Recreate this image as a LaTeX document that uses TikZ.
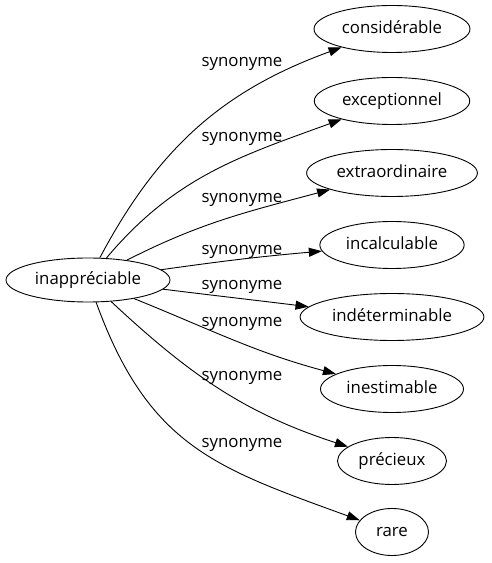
\documentclass[tikz,border=0pt]{standalone}
\usepackage{fontspec}
\setmainfont{Open Sans}
\usetikzlibrary{arrows.meta,shapes.geometric,positioning}
\tikzstyle{word}=[draw, ellipse, line width=0.9pt, inner xsep=5pt, inner ysep=0pt, minimum width=73pt, minimum height=47pt, font=\fontsize{16.8}{20}\selectfont, text height=12.5pt, text depth=4pt]
\tikzstyle{rel}=[draw, line width=0.9pt, -{Triangle[length=13pt,width=9pt]}]
\tikzstyle{lbl}=[font=\fontsize{16.8}{20}\selectfont, inner sep=0pt, text height=12.5pt, text depth=4pt]

\begin{document}
\begin{tikzpicture}[x=1pt,y=1pt]
  \useasboundingbox (0,0) rectangle (491,563);
  \node[word, minimum height=44pt] (src) at (88,283) {inappréciable};
  \foreach \name/\txt/\y/\out/\in/\ly/\loose in {
      a/considérable/534/62/200/501/1,
      b/exceptionnel/462/50/200/426/1,
      c/extraordinaire/390/27/195/365/1,
      d/incalculable/318/8/185/313/1,
      e/indéterminable/246/-7/173/278/1,
      f/inestimable/174/-22/165/241/1,
      g/précieux/102/-43/162/187/1,
      h/rare/31/-70/160/120/1.15}{
    \node[word] (\name) at (392,\y) {\txt};
    \draw[rel] (src) to[out=\out,in=\in,looseness=\loose] (\name);
    \node[lbl] (l\name) at (242,\ly) {synonyme};
  }
\end{tikzpicture}
\end{document}
